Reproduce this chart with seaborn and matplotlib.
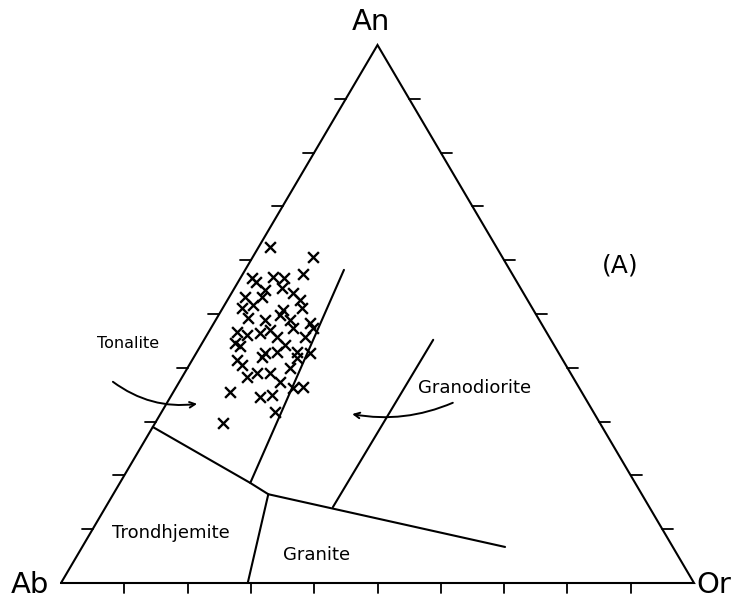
import numpy as np
import pandas as pd
import matplotlib
matplotlib.use("Agg")
import matplotlib.pyplot as plt
import seaborn as sns

# ---- data: sample compositions (normative An, Or in %, Ab = 100 - An - Or) ----
sample_an = [62.5, 60.6, 56.7, 55.9, 56.9, 56.7, 57.4, 54.8, 53.9, 53.2, 53.2, 51.1,
             51.7, 48.9, 49.8, 50.7, 51.1, 48.3, 46.7, 46.1, 46.5, 44.6, 44.1, 45.7,
             47.4, 45.7, 47.4, 42.8, 42.9, 42.9, 42.8, 41.4, 42.0, 40.5, 38.3, 39.0,
             39.0, 37.4, 40.0, 41.8, 36.2, 36.4, 35.5, 34.6, 34.9, 31.8, 29.7, 47.0,
             44.2, 48.9, 49.3, 52.6, 54.5]
sample_or = [1.8, 9.5, 1.8, 2.9, 5.0, 6.9, 9.5, 7.5, 9.7, 2.5, 5.2, 3.0,
             4.5, 7.8, 9.7, 9.8, 12.5, 15.2, 4.5, 6.4, 8.2, 5.2, 6.3, 11.3,
             13.0, 15.7, 16.1, 10.8, 12.7, 15.9, 17.9, 7.1, 10.8, 8.4, 10.3, 11.5,
             13.5, 15.9, 16.2, 16.4, 18.6, 20.0, 9.0, 14.1, 15.9, 17.9, 10.8, 9.5,
             13.3, 11.7, 4.9, 11.5, 5.0]

# ---- field boundaries (An %, Or %) ----
bound_main_an = [29.0, 18.6, 16.5, 6.7]
bound_main_or = [0.0, 20.6, 24.5, 66.8]
bound_ton_gd_an = [18.6, 58.2]
bound_ton_gd_or = [20.6, 15.6]
bound_gd_gr_an = [14.1, 45.2]
bound_gd_gr_or = [35.9, 36.2]
bound_trd_gr_an = [16.5, 0.0]
bound_trd_gr_or = [24.5, 29.5]

tick_values = [10, 20, 30, 40, 50, 60, 70, 80, 90]
vertex_labels = ["An", "Ab", "Or"]
field_labels = ["Tonalite", "Granodiorite", "Trondhjemite", "Granite"]
panel_label = "(A)"


def cart(an, orr):
    an = np.asarray(an, float) / 100.0
    orr = np.asarray(orr, float) / 100.0
    return orr + an / 2.0, an


sns.set_style("white")
plt.rcParams["font.family"] = ["DejaVu Sans"]
plt.rcParams["text.color"] = "black"

fig = plt.figure(figsize=(7.36, 6.05), dpi=100)
ax = fig.add_axes([0, 0, 1, 1])
W, H = 736, 605
x0, xs = 61, 633
y0, ys = 583, 538
ax.set_xlim(-x0 / xs, (W - x0) / xs)
ax.set_ylim(-(H - y0) / ys, y0 / ys)
ax.axis("off")

lw = 1.5
# triangle
tx, ty = cart([0, 0, 100, 0], [0, 100, 0, 0])
ax.plot(tx, ty, color="black", lw=lw, solid_joinstyle="miter")

# ticks
tl_x = 11 / xs
tl_y = 10 / ys
for t in tick_values:
    bx, by = cart(0, t)
    ax.plot([bx, bx], [by, by - tl_y], color="black", lw=1.3)
    lx, ly = cart(t, 0)
    ax.plot([lx, lx - tl_x], [ly, ly], color="black", lw=1.3)
    rx, ry = cart(t, 100 - t)
    ax.plot([rx, rx + tl_x], [ry, ry], color="black", lw=1.3)

# boundaries
for a, o in [(bound_main_an, bound_main_or), (bound_ton_gd_an, bound_ton_gd_or),
             (bound_gd_gr_an, bound_gd_gr_or), (bound_trd_gr_an, bound_trd_gr_or)]:
    bx, by = cart(a, o)
    sns.lineplot(x=bx, y=by, sort=False, color="black", lw=1.5, ax=ax,
                 estimator=None)

# samples
sx, sy = cart(sample_an, sample_or)
df = pd.DataFrame({"x": sx, "y": sy})
sns.scatterplot(data=df, x="x", y="y", marker="x", color="black", s=60,
                linewidth=1.7, ax=ax, legend=False)

# vertex labels
vx = [0.489, -0.049, 1.032]
vy = [1.043, -0.004, -0.004]
for lab, x, y in zip(vertex_labels, vx, vy):
    ax.text(x, y, lab, fontsize=21, ha="center", va="center", color="black")

ax.text(0.883, 0.591, panel_label, fontsize=18, ha="center", va="center",
        color="black")

# field labels
fx = [0.106, 0.654, 0.174, 0.404]
fy = [0.446, 0.362, 0.093, 0.052]
fs = [11.5, 13, 13, 13]
for lab, x, y, s in zip(field_labels, fx, fy, fs):
    ax.text(x, y, lab, fontsize=s, ha="center", va="center", color="black")

# arrows
ax.annotate("", xy=(0.215, 0.333), xytext=(0.082, 0.374),
            arrowprops=dict(arrowstyle="->", color="black", lw=1.4,
                            connectionstyle="arc3,rad=0.2", shrinkA=0, shrinkB=0))
ax.annotate("", xy=(0.460, 0.314), xytext=(0.619, 0.335),
            arrowprops=dict(arrowstyle="->", color="black", lw=1.4,
                            connectionstyle="arc3,rad=-0.15", shrinkA=0, shrinkB=0))

fig.savefig("out.png", dpi=100)
